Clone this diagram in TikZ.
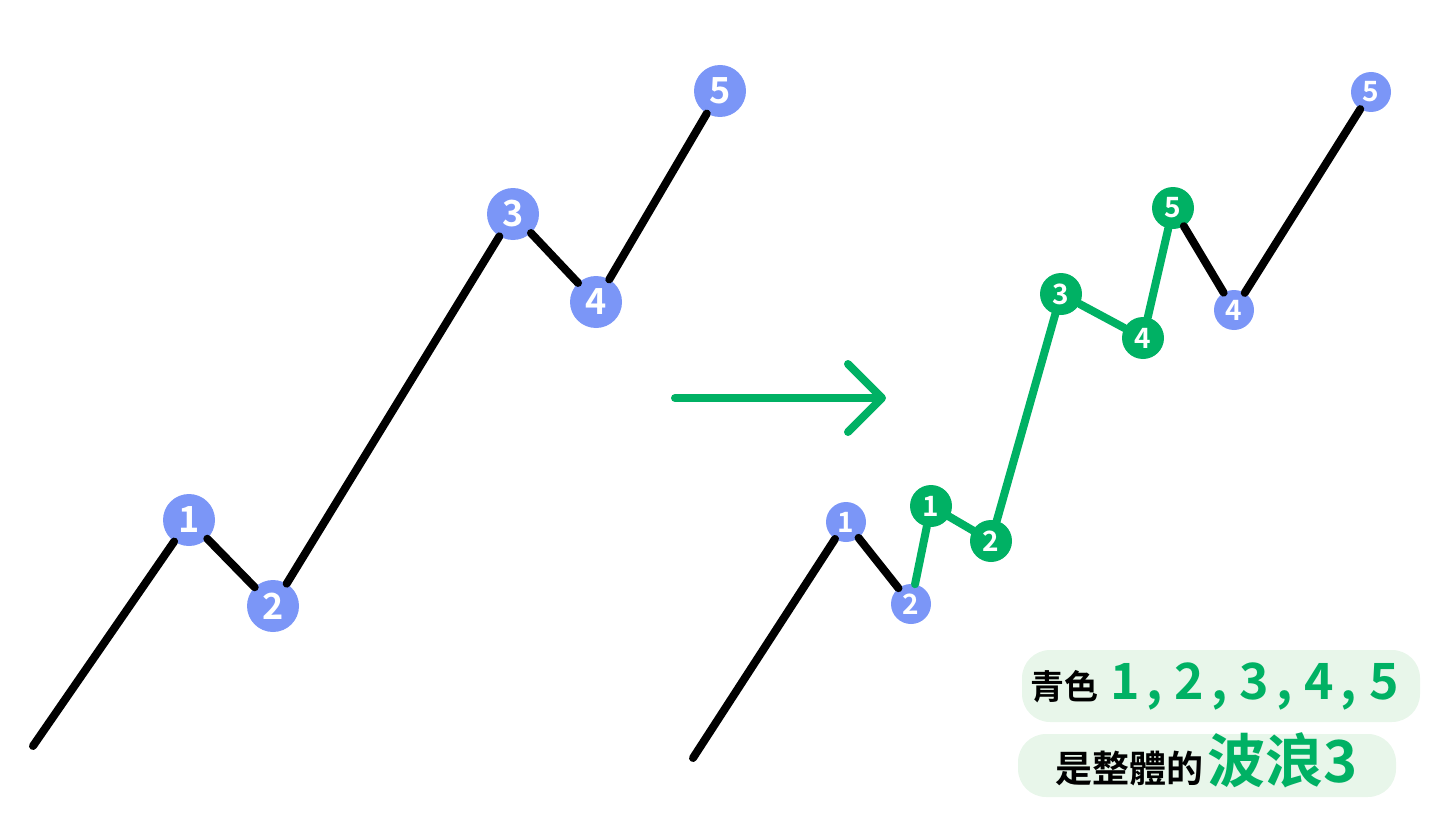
\documentclass[tikz,border=0pt]{standalone}
\usepackage{fontspec}
\newfontfamily\cjk{Noto Sans CJK TC}[BoldFont={Noto Sans CJK TC Bold}]
\usetikzlibrary{arrows.meta}
\definecolor{wblue}{HTML}{7B96F7}
\definecolor{wgreen}{HTML}{00B164}
\definecolor{hlgreen}{HTML}{E8F6EA}

\begin{document}
\begin{tikzpicture}[x=1pt,y=-1pt,
  big/.style={circle,fill=wblue,text=white,minimum size=52pt,inner sep=0pt,font=\cjk\bfseries\fontsize{36}{36}\selectfont},
  small/.style={circle,fill=wblue,text=white,minimum size=40pt,inner sep=0pt,font=\cjk\bfseries\fontsize{28}{28}\selectfont},
  sub/.style={circle,fill=wgreen,text=white,minimum size=42pt,inner sep=0pt,font=\cjk\bfseries\fontsize{28}{28}\selectfont},
  wave/.style={line width=8pt,line cap=round},
  hl/.style={fill=hlgreen,rounded corners=28pt}]
\useasboundingbox (0,0) rectangle (1440,840);
% left wave
\coordinate (L0) at (33,746);
\node[big] (L_1) at (189,520) {1};
\node[big] (L_2) at (273,606) {2};
\node[big] (L_3) at (513,214) {3};
\node[big] (L_4) at (596,302) {4};
\node[big] (L_5) at (720,91) {5};
\draw[wave] (L0) -- (L_1) -- (L_2) -- (L_3) -- (L_4) -- (L_5);
% arrow
\coordinate (A_s) at (675,398);
\coordinate (A_e) at (886,398);
\draw[wave,wgreen,-{Straight Barb[length=34pt,width=68pt,round]}] (A_s) -- (A_e);
% right wave
\coordinate (R0) at (693,758);
\node[small] (R_1) at (846,522) {1};
\node[small] (R_2) at (911,604) {2};
\node[small] (R_4) at (1234,310) {4};
\node[small] (R_5) at (1371,92) {5};
\node[sub] (G_1) at (931,506) {1};
\node[sub] (G_2) at (991,541) {2};
\node[sub] (G_3) at (1061,294) {3};
\node[sub] (G_4) at (1143,338) {4};
\node[sub] (G_5) at (1173,208) {5};
\draw[wave] (R0) -- (R_1) -- (R_2);
\draw[wave] (G_5) -- (R_4) -- (R_5);
\draw[wave,wgreen] (R_2) -- (G_1) -- (G_2) -- (G_3) -- (G_4) -- (G_5);
% label
\fill[hl] (1022,650) rectangle (1420,722);
\fill[hl] (1018,734) rectangle (1396,797);
\node[font=\cjk\bfseries\fontsize{34}{34}\selectfont,anchor=west,inner sep=0pt] (T_1) at (1030,686)
  {青色\hspace{12pt}\textcolor{wgreen}{\fontsize{50}{50}\selectfont
   1\hspace{7pt},\hspace{12pt}2\hspace{7pt},\hspace{12pt}3\hspace{7pt},\hspace{12pt}4\hspace{7pt},\hspace{12pt}5}};
\node[font=\cjk\bfseries\fontsize{37}{37}\selectfont,anchor=west,inner sep=0pt] (T_2) at (1055,760)
  {是整體的\hspace{4pt}\textcolor{wgreen}{\fontsize{58}{58}\selectfont 波浪3}};
\end{tikzpicture}
\end{document}
